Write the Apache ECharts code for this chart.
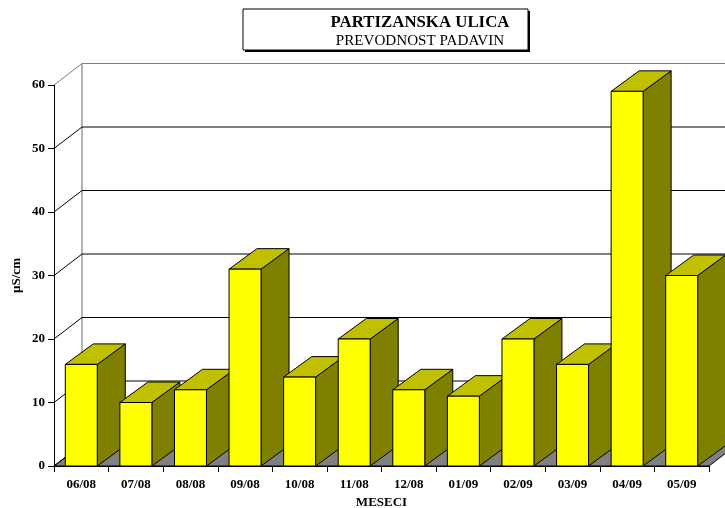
<!DOCTYPE html>
<html><head><meta charset="utf-8">
<script src="https://cdn.jsdelivr.net/npm/echarts@6/dist/echarts.min.js"></script>
<style>html,body{margin:0;padding:0;background:#fff}#c{width:725px;height:508px}</style>
</head><body><div id="c"></div>
<script>
const categories = ['06/08','07/08','08/08','09/08','10/08','11/08','12/08','01/09','02/09','03/09','04/09','05/09'];
const values = [16, 10, 12, 31, 14, 20, 12, 11, 20, 16, 59, 30];
const yTicks = [0, 10, 20, 30, 40, 50, 60];
const titleText = 'PARTIZANSKA ULICA';
const subtitleText = 'PREVODNOST PADAVIN';
const yName = 'µS/cm';
const xName = 'MESECI';

const FONT = 'Liberation Serif';
const WDX = 28, WDY = -21.5;   // wall depth
const BDX = 28, BDY = -20.5;   // bar depth
const BAR_RATIO = 0.586;

const chart = echarts.init(document.getElementById('c'), null, {renderer: 'canvas'});

function wallItem(params, api) {
  const cs = params.coordSys;
  const v = api.value(1);
  const y = api.coord([0, v])[1];
  const x0 = cs.x, xr = cs.x + cs.width;
  const yMax = yTicks[yTicks.length - 1];
  const children = [];
  if (v === 0) {
    children.push({type: 'polygon', shape: {points: [[x0, y], [xr, y], [xr + WDX, y + WDY], [x0 + WDX, y + WDY]]},
      style: {fill: '#808080', stroke: '#000', lineWidth: 1}});
    const yTop = api.coord([0, yMax])[1];
    children.push({type: 'line', shape: {x1: x0 + WDX, y1: y + WDY, x2: x0 + WDX, y2: yTop + WDY}, style: {stroke: '#808080', lineWidth: 1.2}});
  }
  const isTop = v === yMax;
  const col = isTop ? '#808080' : '#000';
  children.push({type: 'line', shape: {x1: x0, y1: y, x2: x0 + WDX, y2: y + WDY}, style: {stroke: col, lineWidth: 1}});
  children.push({type: 'line', shape: {x1: x0 + WDX, y1: y + WDY, x2: xr + WDX + 40, y2: y + WDY}, style: {stroke: col, lineWidth: isTop ? 1.2 : 1}});
  return {type: 'group', children: children};
}

function barItem(params, api) {
  const idx = api.value(0);
  const p = api.coord([idx, api.value(1)]);
  const p0 = api.coord([idx, 0]);
  const bw = api.size([1, 0])[0] * BAR_RATIO;
  const x1 = p[0] - bw / 2, x2 = p[0] + bw / 2;
  const yt = p[1], yb = p0[1];
  return {type: 'group', children: [
    {type: 'polygon', shape: {points: [[x2, yb], [x2 + BDX, yb + BDY], [x2 + BDX, yt + BDY], [x2, yt]]},
      style: {fill: '#808000', stroke: '#000', lineWidth: 1}},
    {type: 'polygon', shape: {points: [[x1, yt], [x1 + BDX, yt + BDY], [x2 + BDX, yt + BDY], [x2, yt]]},
      style: {fill: '#C0C000', stroke: '#000', lineWidth: 1}},
    {type: 'rect', shape: {x: x1, y: yt, width: bw, height: yb - yt},
      style: {fill: '#FFFF00', stroke: '#000', lineWidth: 1}}
  ]};
}

const option = {
  animation: false,
  backgroundColor: '#fff',
  grid: {left: 54, right: 16, top: 85, bottom: 42, containLabel: false, outerBoundsMode: 'none'},
  xAxis: {
    type: 'category', data: categories, boundaryGap: true,
    axisLine: {lineStyle: {color: '#000', width: 1}},
    axisTick: {show: true, length: 6, lineStyle: {color: '#000'}},
    axisLabel: {color: '#000', fontFamily: FONT, fontWeight: 'bold', fontSize: 13, margin: 12, interval: 0},
    name: xName, nameLocation: 'middle', nameGap: 30, nameMoveOverlap: false,
    nameTextStyle: {color: '#000', fontFamily: FONT, fontWeight: 'bold', fontSize: 13}
  },
  yAxis: {
    type: 'value', min: 0, max: 60, interval: 10,
    axisLine: {show: true, lineStyle: {color: '#000', width: 1}},
    axisTick: {show: true, length: 6, lineStyle: {color: '#000'}},
    axisLabel: {color: '#000', fontFamily: FONT, fontWeight: 'bold', fontSize: 13, margin: 9},
    splitLine: {show: false},
    name: yName, nameLocation: 'middle', nameGap: 31, nameRotate: 90, nameMoveOverlap: false,
    nameTextStyle: {color: '#000', fontFamily: FONT, fontWeight: 'bold', fontSize: 13}
  },
  series: [
    {type: 'custom', name: 'wall', renderItem: wallItem, data: yTicks.map(v => [0, v]), z: 1, clip: false, silent: true},
    {type: 'custom', name: 'bars', renderItem: barItem, data: values.map((v, i) => [i, v]), z: 3, clip: false}
  ],
  graphic: [
    {type: 'rect', shape: {x: 245, y: 11, width: 285, height: 41}, style: {fill: '#000'}, z: 10},
    {type: 'rect', shape: {x: 243, y: 9, width: 285, height: 41}, style: {fill: '#fff', stroke: '#000', lineWidth: 1}, z: 11},
    {type: 'text', x: 420, y: 23, z: 12, scaleX: 1.05, style: {text: titleText, fill: '#000', font: 'bold 16px "' + FONT + '"', textAlign: 'center', textVerticalAlign: 'middle'}},
    {type: 'text', x: 420, y: 41, z: 12, scaleX: 1.08, style: {text: subtitleText, fill: '#000', font: '14px "' + FONT + '"', textAlign: 'center', textVerticalAlign: 'middle'}}
  ]
};
chart.setOption(option);
</script>
</body></html>
